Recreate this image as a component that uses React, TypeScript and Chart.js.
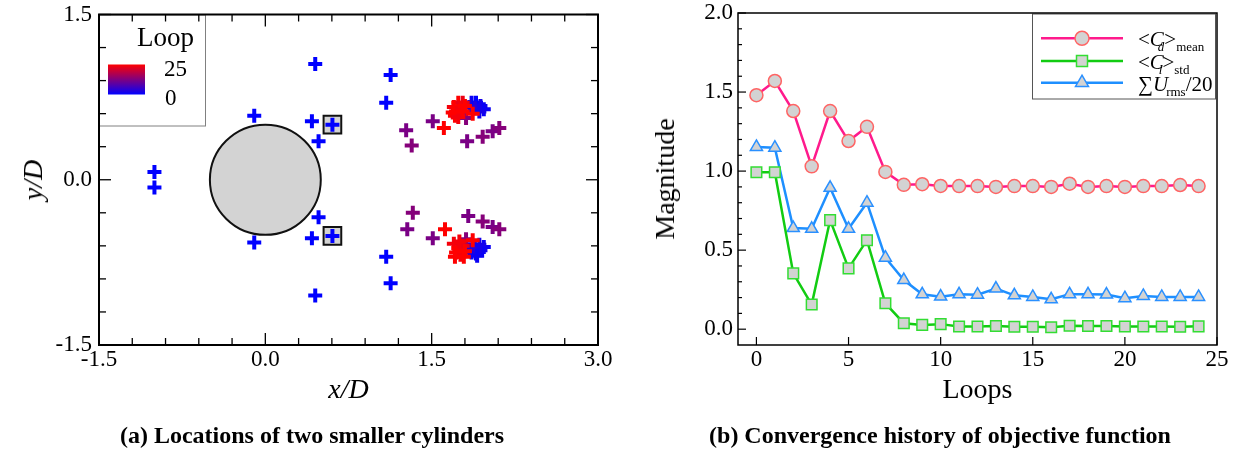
import React, { useEffect, useRef } from 'react';
import { Chart, registerables } from 'chart.js';

Chart.register(...registerables);

const FONT = "'Liberation Serif', 'Times New Roman', serif";

// ---------------- Panel (a): locations of the two smaller cylinders ----------------
const loopMax = 25;
// upper cylinder positions (x/D, y/D) and the loop they belong to
const upperX = [-1.0, -0.1, 0.45, 0.42, 0.605, 0.48, 1.13, 1.09, 1.86, 1.9, 1.94, 1.97, 1.89, 1.93, 1.84, 1.27, 1.32, 1.51, 1.81, 1.82, 1.96, 2.05, 2.11, 1.61, 1.71, 1.87, 1.7, 1.74, 1.78, 1.72, 1.76, 1.8, 1.69, 1.74, 1.78];
const upperY = [0.07, 0.58, 1.05, 0.53, 0.5, 0.35, 0.95, 0.7, 0.7, 0.7, 0.67, 0.64, 0.65, 0.62, 0.66, 0.45, 0.31, 0.53, 0.56, 0.35, 0.39, 0.44, 0.47, 0.47, 0.58, 0.6, 0.66, 0.7, 0.7, 0.62, 0.65, 0.67, 0.61, 0.57, 0.62];
const upperLoop = [0, 0, 0, 0, 0, 0, 0, 0, 1, 0, 2, 1, 3, 2, 4, 12, 13, 12, 13, 12, 13, 12, 13, 25, 25, 25, 24, 25, 23, 25, 24, 25, 25, 24, 25];
// lower cylinder positions
const lowerX = [-1.0, -0.1, 0.45, 0.42, 0.605, 0.48, 1.13, 1.09, 1.86, 1.9, 1.94, 1.97, 1.89, 1.93, 1.84, 1.91, 1.28, 1.33, 1.51, 1.81, 1.83, 1.96, 2.05, 2.11, 1.62, 1.87, 1.7, 1.74, 1.78, 1.72, 1.76, 1.8, 1.71, 1.75, 1.79];
const lowerY = [-0.07, -0.57, -1.05, -0.53, -0.51, -0.34, -0.94, -0.7, -0.66, -0.67, -0.64, -0.61, -0.62, -0.59, -0.63, -0.69, -0.45, -0.3, -0.53, -0.54, -0.33, -0.38, -0.43, -0.45, -0.45, -0.55, -0.58, -0.62, -0.6, -0.66, -0.68, -0.65, -0.7, -0.56, -0.7];
const lowerLoop = [0, 0, 0, 0, 0, 0, 0, 0, 1, 0, 2, 1, 3, 2, 4, 1, 12, 13, 12, 13, 12, 13, 12, 13, 25, 25, 24, 25, 23, 25, 24, 25, 25, 24, 25];
// boxed (initial) positions
const boxX = [0.605, 0.605];
const boxY = [0.5, -0.51];
// main cylinder
const cylinderCenter = [0, 0];
const cylinderDiameter = 1;
// axes
const aXTicks = [-1.5, 0, 1.5, 3.0];
const aYTicks = [-1.5, 0, 1.5];
const aXMinor = [-1.2, -0.9, -0.6, -0.3, 0.3, 0.6, 0.9, 1.2, 1.8, 2.1, 2.4, 2.7];
const aYMinor = [-1.2, -0.9, -0.6, -0.3, 0.3, 0.6, 0.9, 1.2];

// ---------------- Panel (b): convergence history ----------------
const loopIdx = [0, 1, 2, 3, 4, 5, 6, 7, 8, 9, 10, 11, 12, 13, 14, 15, 16, 17, 18, 19, 20, 21, 22, 23, 24];
const cdMean = [1.48, 1.57, 1.38, 1.03, 1.38, 1.19, 1.28, 0.995, 0.913, 0.917, 0.906, 0.905, 0.905, 0.9, 0.905, 0.905, 0.9, 0.92, 0.9, 0.905, 0.9, 0.905, 0.905, 0.912, 0.905];
const clStd = [0.993, 0.993, 0.353, 0.156, 0.69, 0.385, 0.563, 0.164, 0.038, 0.027, 0.032, 0.017, 0.017, 0.02, 0.015, 0.015, 0.012, 0.022, 0.02, 0.02, 0.017, 0.017, 0.017, 0.015, 0.018];
const urms20 = [1.153, 1.148, 0.64, 0.635, 0.894, 0.635, 0.8, 0.452, 0.311, 0.221, 0.206, 0.221, 0.218, 0.257, 0.214, 0.204, 0.189, 0.221, 0.221, 0.219, 0.196, 0.21, 0.204, 0.204, 0.204];
const bXTicks = [0, 5, 10, 15, 20, 25];
const bYTicks = [0, 0.5, 1.0, 1.5, 2.0];
const bYMinor = [0.1, 0.2, 0.3, 0.4, 0.6, 0.7, 0.8, 0.9, 1.1, 1.2, 1.3, 1.4, 1.6, 1.7, 1.8, 1.9];

const cdLine = '#FF1A8C';
const cdMarker = '#FF6464';
const clLine = '#12CC12';
const clMarker = '#33DD33';
const uLine = '#1E8FFF';
const uMarker = '#2A90FF';
const markerFill = '#D3D3D3';

function loopColor(loop: number) {
  const t = Math.max(0, Math.min(1, loop / loopMax));
  return `rgb(${Math.round(255 * t)},0,${Math.round(255 * (1 - t))})`;
}

function drawFrameTicks(chart: any, cfg: any) {
  const { ctx, chartArea: a, scales } = chart;
  const x = scales.x, y = scales.y;
  ctx.save();
  ctx.strokeStyle = '#000';
  ctx.lineWidth = cfg.tickWidth;
  const seg = (x0: number, y0: number, x1: number, y1: number) => {
    ctx.beginPath(); ctx.moveTo(x0, y0); ctx.lineTo(x1, y1); ctx.stroke();
  };
  const xs = [...cfg.xMajor.map((v: number) => [v, cfg.major]), ...cfg.xMinor.map((v: number) => [v, cfg.minor])];
  const ys = [...cfg.yMajor.map((v: number) => [v, cfg.major]), ...cfg.yMinor.map((v: number) => [v, cfg.minor])];
  for (const [v, len] of xs) {
    const px = x.getPixelForValue(v);
    seg(px, a.bottom, px, a.bottom - len);
    if (cfg.allSides) seg(px, a.top, px, a.top + len);
  }
  for (const [v, len] of ys) {
    const py = y.getPixelForValue(v);
    seg(a.left, py, a.left + len, py);
    if (cfg.allSides) seg(a.right, py, a.right - len, py);
  }
  ctx.lineWidth = cfg.frameWidth;
  ctx.strokeRect(a.left, a.top, a.right - a.left, a.bottom - a.top);
  ctx.restore();
}

const panelAPlugin = {
  id: 'panelA',
  beforeDatasetsDraw(chart: any) {
    const { ctx, scales: { x, y } } = chart;
    const cx = x.getPixelForValue(cylinderCenter[0]);
    const cy = y.getPixelForValue(cylinderCenter[1]);
    const rx = Math.abs(x.getPixelForValue(cylinderCenter[0] + cylinderDiameter / 2) - cx);
    const ry = Math.abs(y.getPixelForValue(cylinderCenter[1] + cylinderDiameter / 2) - cy);
    ctx.save();
    ctx.beginPath();
    ctx.ellipse(cx, cy, rx, ry, 0, 0, Math.PI * 2);
    ctx.fillStyle = '#D3D3D3';
    ctx.fill();
    ctx.lineWidth = 2;
    ctx.strokeStyle = '#111';
    ctx.stroke();
    ctx.restore();
  },
  afterDatasetsDraw(chart: any) {
    const { ctx, chartArea: a } = chart;
    ctx.save();
    const bw = 106, bh = 111;
    ctx.fillStyle = '#fff';
    ctx.fillRect(a.left, a.top, bw, bh);
    ctx.strokeStyle = '#808080';
    ctx.lineWidth = 1;
    ctx.strokeRect(a.left + 0.5, a.top + 0.5, bw, bh);
    const gx = a.left + 9, gy = a.top + 50, gw = 37, gh = 30;
    const grad = ctx.createLinearGradient(0, gy, 0, gy + gh);
    grad.addColorStop(0, loopColor(loopMax));
    grad.addColorStop(1, loopColor(0));
    ctx.fillStyle = grad;
    ctx.fillRect(gx, gy, gw, gh);
    ctx.fillStyle = '#000';
    ctx.textAlign = 'left';
    ctx.textBaseline = 'alphabetic';
    ctx.font = `27px ${FONT}`;
    ctx.fillText('Loop', a.left + 38, a.top + 31);
    ctx.font = `23px ${FONT}`;
    ctx.fillText(String(loopMax), a.left + 65, a.top + 61.5);
    ctx.fillText('0', a.left + 66, a.top + 90);
    ctx.restore();
    drawFrameTicks(chart, { xMajor: aXTicks, yMajor: aYTicks, xMinor: aXMinor, yMinor: aYMinor, major: 12, minor: 7, allSides: true, frameWidth: 2, tickWidth: 1.3 });
  },
};

type Seg = { t: string; it?: boolean; sub?: boolean; dx?: number };
const legendRows: { line: string; marker: string; style: string; segs: Seg[] }[] = [
  { line: cdLine, marker: cdMarker, style: 'circle', segs: [{ t: '<' }, { t: 'C', it: true }, { t: 'd', it: true, sub: true, dx: -6 }, { t: '>' }, { t: 'mean', sub: true }] },
  { line: clLine, marker: clMarker, style: 'rect', segs: [{ t: '<' }, { t: 'C', it: true }, { t: 'l', it: true, sub: true, dx: -5 }, { t: '>' }, { t: 'std', sub: true }] },
  { line: uLine, marker: uMarker, style: 'triangle', segs: [{ t: '\u2211' }, { t: 'U', it: true }, { t: 'rms', sub: true, dx: -2 }, { t: '/20' }] },
];

function drawMarker(ctx: CanvasRenderingContext2D, style: string, x: number, y: number, border: string) {
  ctx.beginPath();
  if (style === 'circle') ctx.arc(x, y, 7, 0, Math.PI * 2);
  else if (style === 'rect') ctx.rect(x - 5.5, y - 5.5, 11, 11);
  else {
    const r = 7.5;
    ctx.moveTo(x, y - r);
    ctx.lineTo(x + r * Math.sin((2 * Math.PI) / 3), y - r * Math.cos((2 * Math.PI) / 3));
    ctx.lineTo(x + r * Math.sin((4 * Math.PI) / 3), y - r * Math.cos((4 * Math.PI) / 3));
    ctx.closePath();
  }
  ctx.fillStyle = markerFill;
  ctx.fill();
  ctx.lineWidth = 1.5;
  ctx.strokeStyle = border;
  ctx.stroke();
}

const panelBPlugin = {
  id: 'panelB',
  afterDatasetsDraw(chart: any) {
    const { ctx, chartArea: a } = chart;
    ctx.save();
    const lx = a.right - 185, ly = a.top + 0.5, lw = 183, lh = 85;
    ctx.fillStyle = '#fff';
    ctx.fillRect(lx, ly, lw, lh);
    ctx.strokeStyle = '#555';
    ctx.lineWidth = 1;
    ctx.strokeRect(lx + 0.5, ly + 0.5, lw, lh);
    const rowYs = [a.top + 25.3, a.top + 48, a.top + 69.7];
    legendRows.forEach((row, i) => {
      const ry = rowYs[i];
      ctx.strokeStyle = row.line;
      ctx.lineWidth = 2.5;
      ctx.beginPath();
      ctx.moveTo(lx + 9, ry);
      ctx.lineTo(lx + 91, ry);
      ctx.stroke();
      drawMarker(ctx, row.style, lx + 50, ry, row.marker);
      let cx = lx + 106;
      const base = ry + 8;
      ctx.fillStyle = '#000';
      ctx.textAlign = 'left';
      ctx.textBaseline = 'alphabetic';
      for (const s of row.segs) {
        const size = s.sub ? 13 : 21;
        ctx.font = `${s.it ? 'italic ' : ''}${size}px ${FONT}`;
        cx += s.dx || 0;
        ctx.fillText(s.t, cx, base + (s.sub ? 5 : 0));
        cx += ctx.measureText(s.t).width;
      }
    });
    ctx.restore();
    drawFrameTicks(chart, { xMajor: bXTicks, yMajor: bYTicks, xMinor: [], yMinor: bYMinor, major: 8, minor: 4, allSides: false, frameWidth: 1.5, tickWidth: 1.2 });
  },
};

const tickFont = { family: FONT, size: 23 };

export default function App() {
  const aRef = useRef<HTMLCanvasElement>(null);
  const bRef = useRef<HTMLCanvasElement>(null);

  useEffect(() => {
    const chartA = new Chart(aRef.current as HTMLCanvasElement, {
      type: 'scatter',
      data: {
        datasets: [
          {
            label: 'upper',
            data: upperX.map((x, i) => ({ x, y: upperY[i] })),
            pointStyle: 'cross',
            pointRadius: 7,
            pointBorderWidth: 4,
            pointBorderColor: upperLoop.map(loopColor),
            showLine: false,
          },
          {
            label: 'lower',
            data: lowerX.map((x, i) => ({ x, y: lowerY[i] })),
            pointStyle: 'cross',
            pointRadius: 7,
            pointBorderWidth: 4,
            pointBorderColor: lowerLoop.map(loopColor),
            showLine: false,
          },
          {
            label: 'initial',
            data: boxX.map((x, i) => ({ x, y: boxY[i] })),
            pointStyle: 'rect',
            pointRadius: 12.5,
            pointBackgroundColor: '#D3D3D3',
            pointBorderColor: '#111',
            pointBorderWidth: 2,
            showLine: false,
          },
        ],
      } as any,
      options: {
        responsive: false,
        animation: false,
        events: [],
        layout: { padding: { top: 13, right: 22, left: 0, bottom: 0 } },
        plugins: { legend: { display: false }, tooltip: { enabled: false } },
        scales: {
          x: {
            type: 'linear', min: -1.5, max: 3,
            afterBuildTicks: (s: any) => { s.ticks = aXTicks.map((v) => ({ value: v })); },
            afterFit: (s: any) => { s.height = 109; s.paddingLeft = 0; s.paddingRight = 0; },
            grid: { display: false, drawTicks: false },
            border: { display: false },
            ticks: { font: tickFont, color: '#000', padding: 1, maxRotation: 0, autoSkip: false, callback: (v: any) => Number(v).toFixed(1) },
          },
          y: {
            type: 'linear', min: -1.5, max: 1.5,
            afterBuildTicks: (s: any) => { s.ticks = aYTicks.map((v) => ({ value: v })); },
            afterFit: (s: any) => { s.width = 99; s.paddingTop = 0; s.paddingBottom = 0; },
            grid: { display: false, drawTicks: false },
            border: { display: false },
            ticks: { font: tickFont, color: '#000', padding: 7, autoSkip: false, callback: (v: any) => Number(v).toFixed(1) },
          },
        },
      } as any,
      plugins: [panelAPlugin],
    });

    const chartB = new Chart(bRef.current as HTMLCanvasElement, {
      type: 'line',
      data: {
        datasets: [
          {
            label: 'Cd mean',
            data: loopIdx.map((x, i) => ({ x, y: cdMean[i] })),
            borderColor: cdLine, borderWidth: 2.5, tension: 0,
            pointStyle: 'circle', pointRadius: 6.5, pointBackgroundColor: markerFill, pointBorderColor: cdMarker, pointBorderWidth: 1.5,
          },
          {
            label: 'Cl std',
            data: loopIdx.map((x, i) => ({ x, y: clStd[i] })),
            borderColor: clLine, borderWidth: 2.5, tension: 0,
            pointStyle: 'rect', pointRadius: 7.5, pointBackgroundColor: markerFill, pointBorderColor: clMarker, pointBorderWidth: 1.5,
          },
          {
            label: 'Urms/20',
            data: loopIdx.map((x, i) => ({ x, y: urms20[i] })),
            borderColor: uLine, borderWidth: 2.5, tension: 0,
            pointStyle: 'triangle', pointRadius: 7, pointBackgroundColor: markerFill, pointBorderColor: uMarker, pointBorderWidth: 1.5,
          },
        ],
      } as any,
      options: {
        responsive: false,
        animation: false,
        events: [],
        layout: { padding: { top: 13, right: 24, left: 0, bottom: 0 } },
        plugins: { legend: { display: false }, tooltip: { enabled: false } },
        scales: {
          x: {
            type: 'linear', min: -1, max: 25,
            afterBuildTicks: (s: any) => { s.ticks = bXTicks.map((v) => ({ value: v })); },
            afterFit: (s: any) => { s.height = 109; s.paddingLeft = 0; s.paddingRight = 0; },
            grid: { display: false, drawTicks: false },
            border: { display: false },
            ticks: { font: tickFont, color: '#000', padding: 1, maxRotation: 0, autoSkip: false, callback: (v: any) => String(v) },
          },
          y: {
            type: 'linear', min: -0.1, max: 2.0,
            afterBuildTicks: (s: any) => { s.ticks = bYTicks.map((v) => ({ value: v })); },
            afterFit: (s: any) => { s.width = 118; s.paddingTop = 0; s.paddingBottom = 0; },
            grid: { display: false, drawTicks: false },
            border: { display: false },
            ticks: { font: tickFont, color: '#000', padding: 5, autoSkip: false, callback: (v: any) => Number(v).toFixed(1) },
          },
        },
      } as any,
      plugins: [panelBPlugin],
    });

    return () => {
      chartA.destroy();
      chartB.destroy();
    };
  }, []);

  const abs = (extra: React.CSSProperties): React.CSSProperties => ({ position: 'absolute', whiteSpace: 'nowrap', fontFamily: FONT, color: '#000', ...extra });

  return (
    <div style={{ position: 'absolute', left: 0, top: 0, width: 1241, height: 454, background: '#fff', overflow: 'hidden' }}>
      <canvas ref={aRef} width={620} height={454} style={{ position: 'absolute', left: 0, top: 0 }} />
      <canvas ref={bRef} width={621} height={454} style={{ position: 'absolute', left: 620, top: 0 }} />
      <div style={abs({ left: 348.5, top: 374.5, fontSize: 28, lineHeight: '28px', fontStyle: 'italic', transform: 'translateX(-50%)' })}>x/D</div>
      <div style={abs({ left: 33, top: 180, fontSize: 28, lineHeight: '28px', fontStyle: 'italic', transform: 'translate(-50%,-50%) rotate(-90deg)' })}>y/D</div>
      <div style={abs({ left: 977.5, top: 374.5, fontSize: 28, lineHeight: '28px', transform: 'translateX(-50%)' })}>Loops</div>
      <div style={abs({ left: 665, top: 179, fontSize: 28, lineHeight: '28px', transform: 'translate(-50%,-50%) rotate(-90deg)' })}>Magnitude</div>
      <div style={abs({ left: 312, top: 423, fontSize: 24, lineHeight: '24px', fontWeight: 'bold', transform: 'translateX(-50%)' })}>(a) Locations of two smaller cylinders</div>
      <div style={abs({ left: 940, top: 423, fontSize: 24, lineHeight: '24px', fontWeight: 'bold', transform: 'translateX(-50%)' })}>(b) Convergence history of objective function</div>
    </div>
  );
}
